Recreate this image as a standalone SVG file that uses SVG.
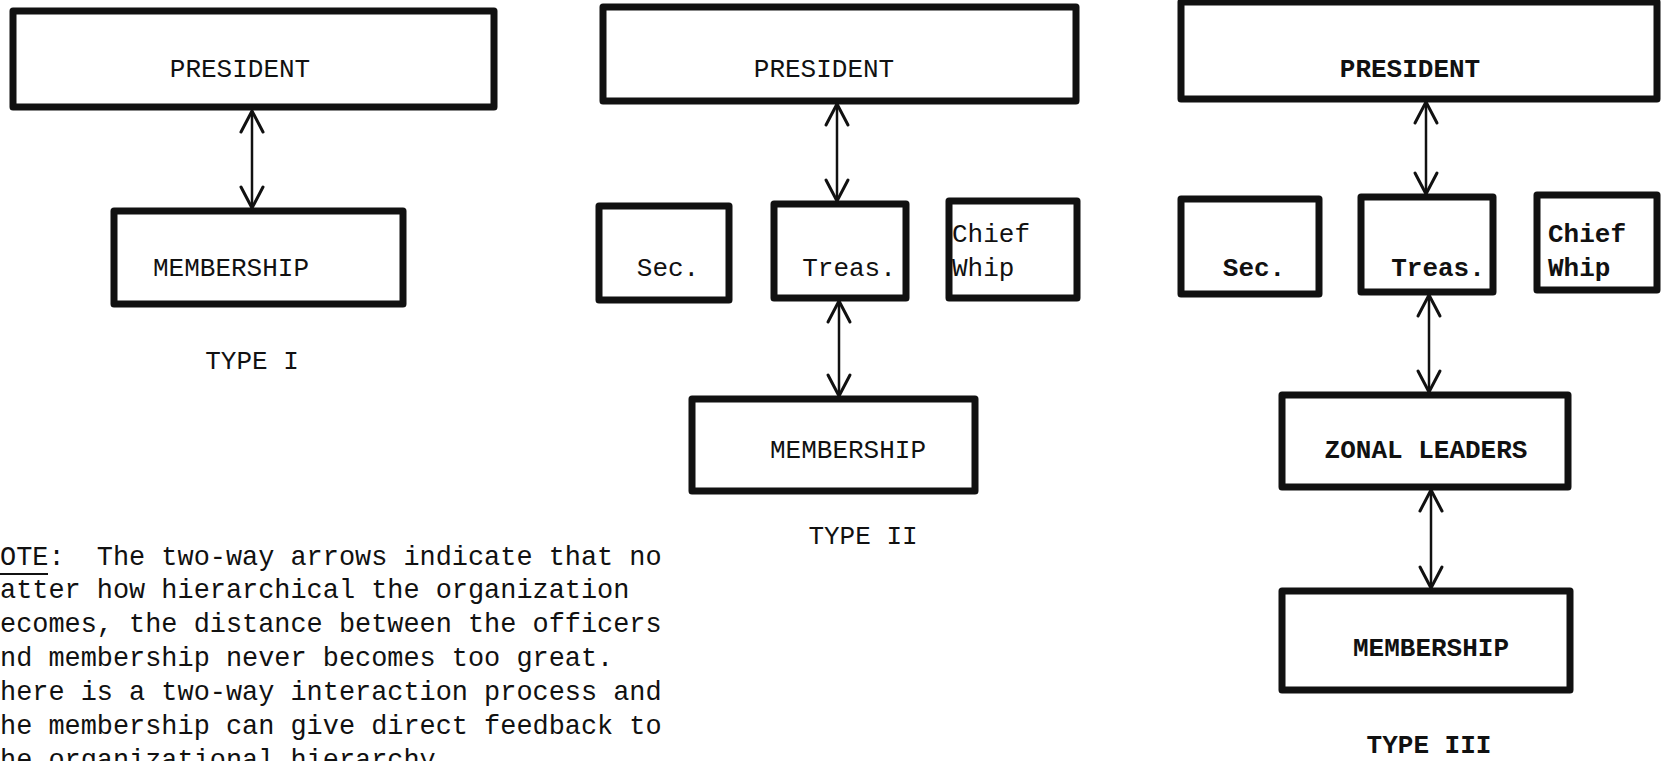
<svg xmlns="http://www.w3.org/2000/svg" width="1661" height="761" viewBox="0 0 1661 761">
<style>
  .box { fill: #fff; stroke: #111; stroke-width: 7; stroke-linejoin: round; }
  .lbl { font-family: "Liberation Mono", "DejaVu Sans Mono", monospace; font-size: 26px; fill: #111; }
  .lbl3 { font-family: "Liberation Mono", "DejaVu Sans Mono", monospace; font-size: 26px; fill: #111; font-weight: bold; }
  .note { font-family: "Liberation Mono", "DejaVu Sans Mono", monospace; font-size: 26.9px; fill: #111; white-space: pre; }
  .conn { stroke: #111; stroke-width: 2.5; fill: none; marker-start: url(#ah); marker-end: url(#ah); }
</style>
<defs>
  <marker id="ah" viewBox="-24 -14 28 28" refX="0" refY="0" markerWidth="28" markerHeight="28" markerUnits="userSpaceOnUse" orient="auto-start-reverse">
    <path d="M-21,-11 L0,0 L-21,11" fill="none" stroke="#111" stroke-width="3" stroke-linecap="round" stroke-linejoin="round"/>
  </marker>
</defs>
<rect width="1661" height="761" fill="#fff"/>

<!-- TYPE I -->
<g id="t1-president"><rect class="box" x="13" y="11" width="481" height="96"/><text class="lbl" x="240" y="77" text-anchor="middle">PRESIDENT</text></g>
<g id="t1-membership"><rect class="box" x="114" y="211" width="289" height="93"/><text class="lbl" x="231" y="276" text-anchor="middle">MEMBERSHIP</text></g>
<g id="t1-label"><text class="lbl" x="252" y="369" text-anchor="middle">TYPE I</text></g>

<!-- TYPE II -->
<g id="t2-president"><rect class="box" x="603" y="7" width="473" height="94"/><text class="lbl" x="824" y="77" text-anchor="middle">PRESIDENT</text></g>
<g id="t2-sec"><rect class="box" x="599" y="206" width="130" height="94"/><text class="lbl" x="668" y="276" text-anchor="middle">Sec.</text></g>
<g id="t2-treas"><rect class="box" x="774" y="204" width="132" height="94"/><text class="lbl" x="849" y="276" text-anchor="middle">Treas.</text></g>
<g id="t2-whip"><rect class="box" x="949" y="201" width="128" height="97"/><text class="lbl" x="952" y="242">Chief</text><text class="lbl" x="952" y="276">Whip</text></g>
<g id="t2-membership"><rect class="box" x="692" y="399" width="283" height="92"/><text class="lbl" x="848" y="458" text-anchor="middle">MEMBERSHIP</text></g>
<g id="t2-label"><text class="lbl" x="863" y="544" text-anchor="middle">TYPE II</text></g>

<!-- TYPE III -->
<g id="t3-president"><rect class="box" x="1181" y="2" width="476" height="97"/><text class="lbl3" x="1410" y="77" text-anchor="middle">PRESIDENT</text></g>
<g id="t3-sec"><rect class="box" x="1181" y="199" width="138" height="95"/><text class="lbl3" x="1254" y="276" text-anchor="middle">Sec.</text></g>
<g id="t3-treas"><rect class="box" x="1361" y="197" width="132" height="95"/><text class="lbl3" x="1438" y="276" text-anchor="middle">Treas.</text></g>
<g id="t3-whip"><rect class="box" x="1537" y="195" width="120" height="95"/><text class="lbl3" x="1548" y="242">Chief</text><text class="lbl3" x="1548" y="276">Whip</text></g>
<g id="t3-zonal"><rect class="box" x="1282" y="395" width="286" height="92"/><text class="lbl3" x="1426" y="458" text-anchor="middle">ZONAL LEADERS</text></g>
<g id="t3-membership"><rect class="box" x="1282" y="591" width="288" height="99"/><text class="lbl3" x="1431" y="656" text-anchor="middle">MEMBERSHIP</text></g>
<g id="t3-label"><text class="lbl3" x="1429" y="753" text-anchor="middle">TYPE III</text></g>

<!-- connectors -->
<g id="connectors">
  <line class="conn" x1="252" y1="111" x2="252" y2="208"/>
  <line class="conn" x1="837" y1="104" x2="837" y2="201"/>
  <line class="conn" x1="839" y1="301" x2="839" y2="396"/>
  <line class="conn" x1="1426" y1="102" x2="1426" y2="194"/>
  <line class="conn" x1="1429" y1="295" x2="1429" y2="392"/>
  <line class="conn" x1="1431" y1="490" x2="1431" y2="588"/>
</g>

<!-- NOTE -->
<g id="note">
  <text class="note" x="0" y="565" xml:space="preserve">OTE:  The two-way arrows indicate that no</text>
  <line x1="0" y1="574" x2="48" y2="574" stroke="#111" stroke-width="2"/>
  <text class="note" x="0" y="598">atter how hierarchical the organization</text>
  <text class="note" x="0" y="632">ecomes, the distance between the officers</text>
  <text class="note" x="0" y="666">nd membership never becomes too great.</text>
  <text class="note" x="0" y="700">here is a two-way interaction process and</text>
  <text class="note" x="0" y="734">he membership can give direct feedback to</text>
  <text class="note" x="0" y="768">he organizational hierarchy.</text>
</g>
</svg>
